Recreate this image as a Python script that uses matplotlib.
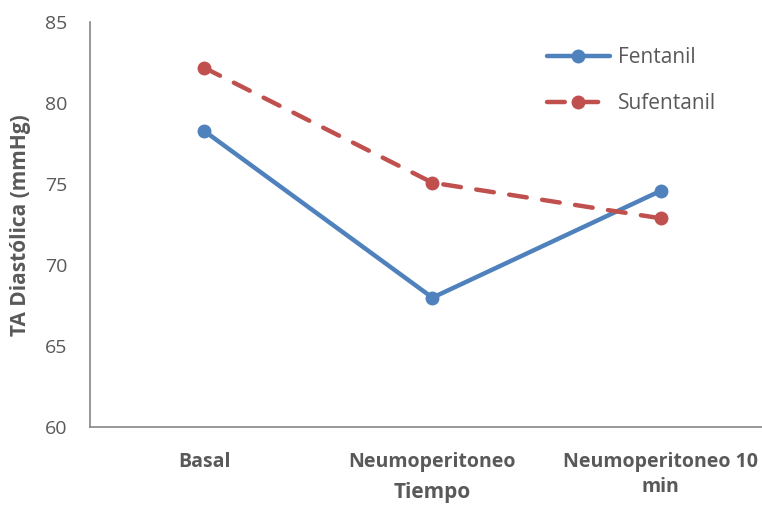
import matplotlib.pyplot as plt

# Presión arterial diastólica por momento de medición
tiempos = ["Basal", "Neumoperitoneo", "Neumoperitoneo 10\nmin"]
fentanil = [78.3, 68.0, 74.6]
sufentanil = [82.2, 75.1, 72.9]

plt.rcParams['font.family'] = ['Open Sans', 'DejaVu Sans']
gris = "#595959"

fig = plt.figure(figsize=(7.62, 5.08), dpi=100)
ax = fig.add_axes([0.118, 0.159, 0.899, 0.797])

x = range(len(tiempos))
ax.plot(x, fentanil, color="#4F81BD", lw=3.2, marker="o", ms=9,
        label="Fentanil", solid_capstyle="round")
ax.plot(x, sufentanil, color="#C0504D", lw=3.2, marker="o", ms=9,
        ls=(0, (4, 3.5)), label="Sufentanil", dash_capstyle="round")

ax.set_xlim(-0.5, 2.5)
ax.set_ylim(60, 85)
ax.set_yticks(range(60, 86, 5))
ax.set_xticks(list(x))
ax.set_xticklabels(tiempos, fontweight="bold", fontsize=14, color=gris,
                   linespacing=1.35)
ax.tick_params(axis="both", length=0, colors=gris)
ax.tick_params(axis="y", labelsize=14, pad=16)
ax.tick_params(axis="x", pad=18)

for s in ["top", "right"]:
    ax.spines[s].set_visible(False)
for s in ["left", "bottom"]:
    ax.spines[s].set_color("#868686")
    ax.spines[s].set_linewidth(1.2)

ax.set_xlabel("Tiempo", fontweight="bold", fontsize=15, color=gris)
ax.xaxis.set_label_coords(0.5, -0.135)
ax.set_ylabel("TA Diastólica (mmHg)", fontweight="bold", fontsize=15,
              color=gris, labelpad=10)

leg = ax.legend(loc="upper left", bbox_to_anchor=(0.64, 0.985), frameon=False,
                fontsize=15, handlelength=3.0, labelspacing=1.2,
                handletextpad=0.4)
for t in leg.get_texts():
    t.set_color(gris)

fig.savefig("out.png", dpi=100)
